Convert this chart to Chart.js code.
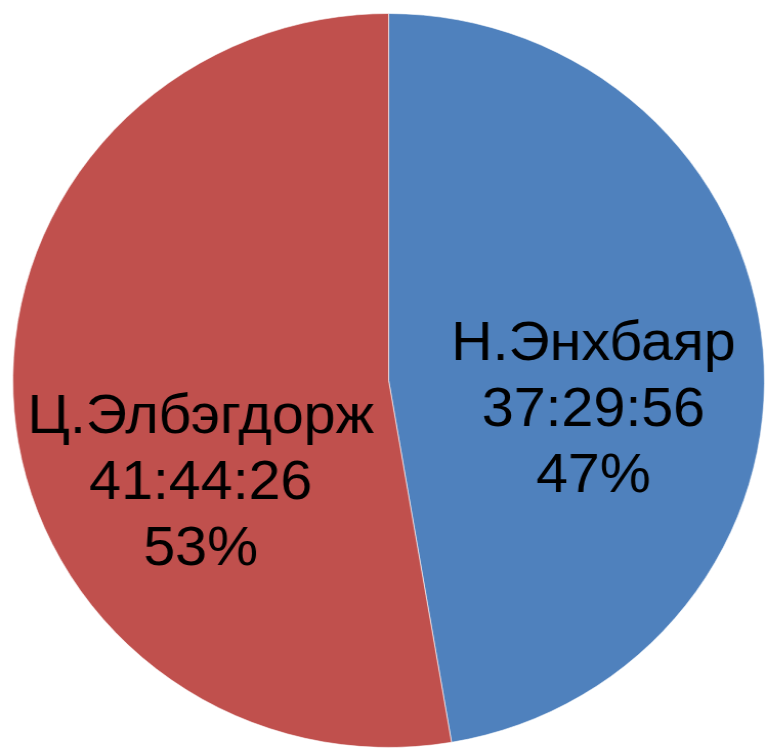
<!DOCTYPE html>
<html>
<head>
<meta charset="utf-8">
<script src="https://cdn.jsdelivr.net/npm/chart.js@4/dist/chart.umd.min.js"></script>
<style>
	html, body { margin: 0; padding: 0; background: #fff; overflow: hidden; }
	/* the reference pie is a little wider than tall */
	#canvasPie { display: block; width: 767px !important; height: 751px !important; }
</style>
</head>
<body>
<canvas id="canvasPie" width="749" height="751"></canvas>
<script>
"use strict"

// candidates and their total time (h:m:s)
var candidates = ['Н.Энхбаяр', 'Ц.Элбэгдорж']
var times = ['37:29:56', '41:44:26']
var seconds = [134996, 150266]

var sliceColors = ['#4F81BD', '#C0504D']

// label placement, fraction of radius from the centre
var labelOffsets = [
	{ x: 0.545, y: 0.082 },
	{ x: -0.50, y: 0.28 }
]

var pieLabels = {
	id: 'pieLabels',
	afterDatasetsDraw: function (chart) {
		const ctx = chart.ctx
		const meta = chart.getDatasetMeta(0)
		const total = seconds.reduce(function (a, b) { return a + b }, 0)
		ctx.save()
		ctx.fillStyle = '#000'
		ctx.font = '56px "Liberation Sans", Arial, sans-serif'
		ctx.textAlign = 'center'
		ctx.textBaseline = 'middle'
		meta.data.forEach(function (arc, i) {
			const r = arc.outerRadius
			const cx = arc.x + labelOffsets[i].x * r
			const cy = arc.y + labelOffsets[i].y * r
			const pct = Math.round(seconds[i] / total * 100) + '%'
			const lines = [candidates[i], times[i], pct]
			lines.forEach(function (line, j) {
				ctx.fillText(line, cx, cy + (j - 1) * 66)
			})
		})
		ctx.restore()
	}
}

const context = document.getElementById('canvasPie').getContext('2d')
const myChart = new Chart(context, {
	type: 'pie',
	data: {
		labels: candidates,
		datasets: [{
			data: seconds,
			backgroundColor: sliceColors,
			borderColor: 'rgba(255, 255, 255, 0.6)',
			borderWidth: 1
		}]
	},
	options: {
		responsive: false,
		devicePixelRatio: 1,
		animation: false,
		layout: {
			padding: { top: 13, bottom: 3, left: 12, right: 2 }
		},
		plugins: {
			legend: { display: false },
			tooltip: { enabled: false }
		}
	},
	plugins: [pieLabels]
})
</script>
</body>
</html>
